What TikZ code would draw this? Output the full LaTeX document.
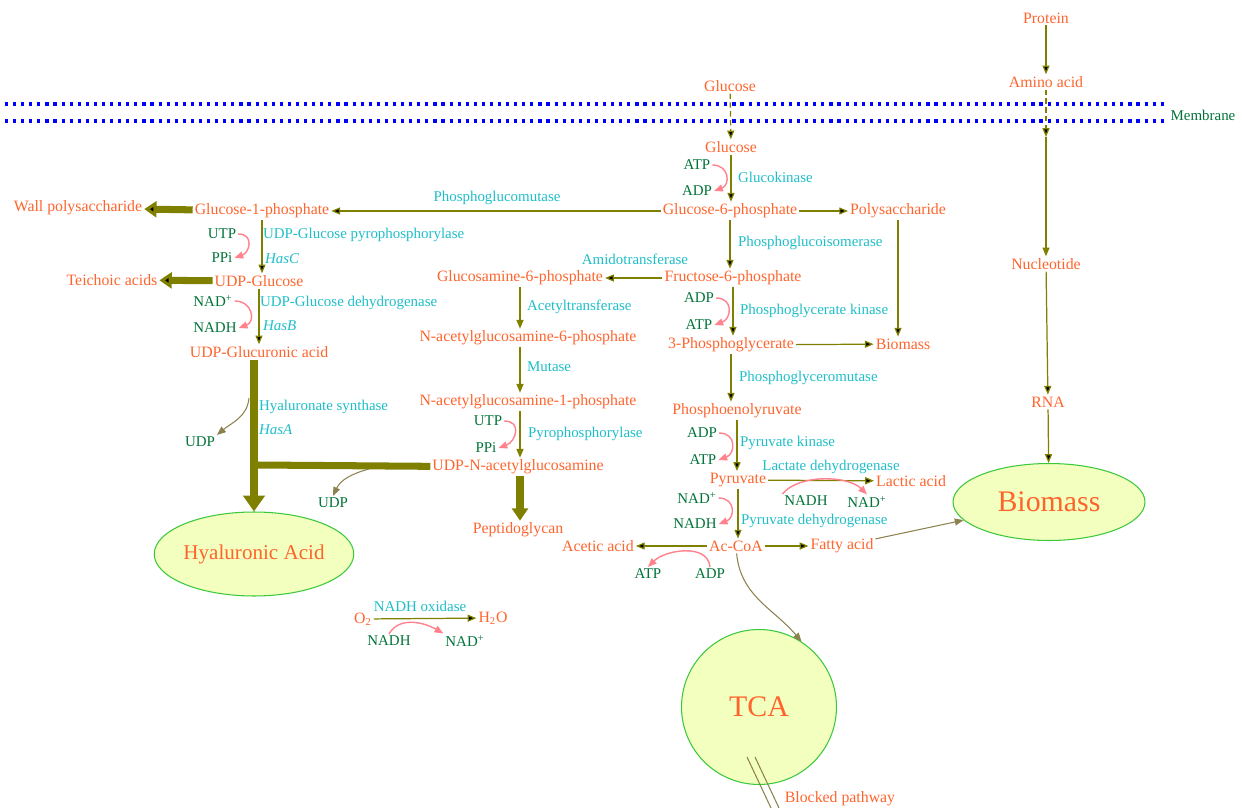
\documentclass[tikz,border=0pt]{standalone}
\usepackage{fontspec}
\setmainfont{Liberation Serif}
\usepackage{tikz}
\usetikzlibrary{arrows.meta,shapes.geometric}

\definecolor{metcol}{RGB}{255,100,45}
\definecolor{cofcol}{RGB}{0,115,55}
\definecolor{enzcol}{RGB}{30,190,200}
\definecolor{fluxcol}{RGB}{128,128,0}
\definecolor{sidecol}{RGB}{140,130,80}
\definecolor{arccol}{RGB}{255,130,140}
\definecolor{poolfill}{RGB}{242,255,190}
\definecolor{poolline}{RGB}{60,200,60}

\begin{document}
\begin{tikzpicture}[x=0.02cm,y=0.02cm
  ,>={Triangle[length=5pt,width=4pt]}
  ,font=\fontsize{9}{10}\selectfont
  ,inner sep=1pt]
  \tikzstyle{met}=[text=metcol]
  \tikzstyle{cof}=[text=cofcol,font=\fontsize{8.5}{9}\selectfont]
  \tikzstyle{enz}=[text=enzcol,font=\fontsize{8.5}{9}\selectfont]
  \tikzstyle{pool}=[ellipse,draw=poolline,fill=poolfill,semithick,text=metcol,inner sep=0pt]
  \tikzstyle{flux}=[->,draw=fluxcol,line width=0.7pt]
  \tikzstyle{bigflux}=[-{Triangle[length=7pt,width=9pt]},draw=fluxcol,line width=4pt]
  \tikzstyle{side}=[->,draw=sidecol,line width=0.6pt]
  \tikzstyle{cofarc}=[->,draw=arccol,line width=0.8pt]
  \tikzstyle{membrane}=[blue,line width=1.8pt,dash pattern=on 1.8pt off 2.8pt]

  \useasboundingbox (0,0) rectangle (1242,-808);

  % membrane
  \draw[membrane] (5,-104) -- (1165,-104);
  \draw[membrane] (5,-121) -- (1165,-121);
  \node[cof] (memb) at (1203,-115) {Membrane};

  % pools
  \node[pool,minimum width=3.84cm,minimum height=1.54cm
  ,font=\fontsize{17}{20}\selectfont] (bio) at (1049,-502) {Biomass};
  \node[pool,minimum width=3.98cm,minimum height=1.68cm
  ,font=\fontsize{12}{14}\selectfont] (ha) at (254,-554) {Hyaluronic Acid};
  \node[pool,circle,minimum size=3.1cm
  ,font=\fontsize{17}{20}\selectfont] (tca) at (759,-707) {TCA};

  % metabolites
  \node[met] (protein) at (1046,-18) {Protein};
  \node[met] (aa) at (1046,-82) {Amino acid};
  \coordinate (aain) at (1046,-137);
  \node[met] (nuc) at (1046,-264) {Nucleotide};
  \node[met] (rna) at (1048,-402) {RNA};
  \node[met] (glcout) at (730,-86) {Glucose};
  \node[met] (glcin) at (731,-147) {Glucose};
  \node[met] (g6p) at (730,-211) {Glucose-6-phosphate};
  \node[met] (poly) at (898,-211) {Polysaccharide};
  \node[met] (bios) at (903,-344) {Biomass};
  \node[met] (f6p) at (733,-278) {Fructose-6-phosphate};
  \node[met] (pga) at (731,-345) {3-Phosphoglycerate};
  \node[met] (pep) at (737,-411) {Phosphoenolyruvate};
  \node[met] (pyr) at (738,-480) {Pyruvate};
  \node[met] (lac) at (911,-481) {Lactic acid};
  \node[met] (accoa) at (736,-546) {Ac-CoA};
  \node[met] (acet) at (598,-546) {Acetic acid};
  \node[met] (fatty) at (842,-546) {Fatty acid};
  \node[met] (g1p) at (262,-211) {Glucose-1-phosphate};
  \node[met] (wall) at (78,-208) {Wall polysaccharide};
  \node[met] (udpg) at (259,-281) {UDP-Glucose};
  \node[met] (teich) at (112,-280) {Teichoic acids};
  \node[met] (udpga) at (259,-352) {UDP-Glucuronic acid};
  \node[met] (gn6p) at (520,-278) {Glucosamine-6-phosphate};
  \node[met] (nag6p) at (528,-338) {N-acetylglucosamine-6-phosphate};
  \node[met] (nag1p) at (528,-402) {N-acetylglucosamine-1-phosphate};
  \node[met] (udpnag) at (518,-467) {UDP-N-acetylglucosamine};
  \node[met] (pepg) at (518,-530) {Peptidoglycan};
  \node[met] (otwo) at (363,-619) {O\textsubscript{2}};
  \node[met] (water) at (493,-618) {H\textsubscript{2}O};
  \node[met] (blocked) at (840,-799) {Blocked pathway};

  % cofactors
  \node[cof] (atpa) at (697,-165) {ATP};
  \node[cof] (adpa) at (697,-191) {ADP};
  \node[cof] (adpb) at (699,-298) {ADP};
  \node[cof] (atpb) at (699,-325) {ATP};
  \node[cof] (adpc) at (702,-433) {ADP};
  \node[cof] (atpc) at (703,-460) {ATP};
  \node[cof] (nadd) at (697,-498) {NAD\textsuperscript{+}};
  \node[cof] (nadhd) at (695,-524) {NADH};
  \node[cof] (nadhe) at (806,-501) {NADH};
  \node[cof] (nade) at (867,-502) {NAD\textsuperscript{+}};
  \node[cof] (atpf) at (648,-574) {ATP};
  \node[cof] (adpf) at (710,-574) {ADP};
  \node[cof] (utpa) at (222,-234) {UTP};
  \node[cof] (ppia) at (222,-258) {PPi};
  \node[cof] (nadg) at (213,-301) {NAD\textsuperscript{+}};
  \node[cof] (nadhg) at (215,-328) {NADH};
  \node[cof] (udpa) at (200,-442) {UDP};
  \node[cof] (udpb) at (333,-503) {UDP};
  \node[cof] (utpb) at (488,-421) {UTP};
  \node[cof] (ppib) at (486,-448) {PPi};
  \node[cof] (nadhh) at (389,-641) {NADH};
  \node[cof] (nadh) at (465,-641) {NAD\textsuperscript{+}};

  % enzymes
  \node[enz] (pgm) at (497,-198) {Phosphoglucomutase};
  \node[enz,anchor=west] (gk) at (736,-177) {Glucokinase};
  \node[enz,anchor=west] (pgi) at (736,-243) {Phosphoglucoisomerase};
  \node[enz] (amt) at (635,-259) {Amidotransferase};
  \node[enz,anchor=west] (pgk) at (738,-311) {Phosphoglycerate kinase};
  \node[enz,anchor=west] (pgam) at (737,-378) {Phosphoglyceromutase};
  \node[enz,anchor=west] (pk) at (738,-443) {Pyruvate kinase};
  \node[enz] (ldh) at (831,-467) {Lactate dehydrogenase};
  \node[enz,anchor=west] (pdh) at (739,-521) {Pyruvate dehydrogenase};
  \node[enz,anchor=west] (ugp) at (261,-235) {UDP-Glucose pyrophosphorylase};
  \node[enz,anchor=west] (hasc) at (263,-259) {\textit{HasC}};
  \node[enz,anchor=west] (ugd) at (258,-303) {UDP-Glucose dehydrogenase};
  \node[enz,anchor=west] (hasb) at (261,-326) {\textit{HasB}};
  \node[enz,anchor=west] (has) at (257,-407) {Hyaluronate synthase};
  \node[enz,anchor=west] (hasa) at (257,-430) {\textit{HasA}};
  \node[enz,anchor=west] (act) at (525,-307) {Acetyltransferase};
  \node[enz,anchor=west] (mut) at (525,-367) {Mutase};
  \node[enz,anchor=west] (ppl) at (526,-434) {Pyrophosphorylase};
  \node[enz] (nox) at (420,-606) {NADH oxidase};

  % thin fluxes
  \path[flux,densely dashed]
  (glcout) edge (glcin)
  (aa) edge (aain);
  \path[flux]
  (protein) edge (aa)
  (nuc) edge (rna)
  (rna) edge (bio)
  (glcin) edge (glcin |- g6p.north)
  (g6p) edge (poly)
  (poly) edge (poly |- bios.north)
  (g6p) edge (g1p)
  (g6p) edge (g6p |- f6p.north)
  (f6p) edge (gn6p)
  (f6p) edge (f6p |- pga.north)
  (pga) edge (bios)
  (pga) edge (pga |- pep.north)
  (pep) edge (pep |- pyr.north)
  (pyr) edge (lac)
  (pyr) edge (pyr |- accoa.north)
  (accoa) edge (acet)
  (accoa) edge (fatty)
  (g1p) edge (g1p |- udpg.north)
  (udpg) edge (udpg |- udpga.north)
  (otwo) edge (water);
  \draw[flux] (aain) -- (nuc);
  % amino sugar column
  \draw[flux] (gn6p) -- (gn6p |- nag6p.north);
  \draw[flux] (gn6p |- nag6p.south) -- (gn6p |- nag1p.north);
  \draw[flux] (gn6p |- nag1p.south) -- (gn6p |- udpnag.north);
  \draw[side] (fatty) -- (bio);
  \draw[side] (accoa) to[out=-85,in=130] (tca.57);

  % thick fluxes
  \coordinate (hajoin) at (257,-465);
  \path[bigflux]
  (g1p) edge (wall)
  (udpg) edge (teich);
  \draw[bigflux,-{Triangle[length=9pt,width=12pt]}] (ha |- udpga.south) -- (ha);
  \draw[bigflux] (gn6p |- udpnag.south) -- (gn6p |- pepg.north);
  \draw[fluxcol,line width=4pt] (udpnag) -- (hajoin);

  % UDP release
  \coordinate (hsbr) at (249,-398);
  \coordinate (nagbr) at (369,-469);
  \draw[side] (hsbr) to[out=-95,in=40] (udpa.north east);
  \draw[side] (nagbr) to[out=195,in=65] (udpb.north);

  % cofactor arcs
  \draw[cofarc] (atpa.east) to[out=0,in=20,looseness=1.7] (adpa.east);
  \draw[cofarc] (adpb.east) to[out=0,in=20,looseness=1.7] (atpb.east);
  \draw[cofarc] (adpc.east) to[out=0,in=20,looseness=1.7] (atpc.east);
  \draw[cofarc] (nadd.east) to[out=0,in=20,looseness=1.7] (nadhd.east);
  \draw[cofarc] (utpa.east) to[out=0,in=20,looseness=1.7] (ppia.east);
  \draw[cofarc] (nadg.east) to[out=0,in=20,looseness=1.7] (nadhg.east);
  \draw[cofarc] (utpb.east) to[out=0,in=20,looseness=1.7] (ppib.east);
  \draw[cofarc] (nadhe.north west) to[out=50,in=135,looseness=0.8] (nade.north);
  \draw[cofarc] (nadhh.north) to[out=60,in=150] (nadh.north west);
  \draw[cofarc] (adpf.north) to[out=95,in=45] (atpf.north);

  % blocked
  \coordinate (blka) at (747,-757);
  \coordinate (blkb) at (755,-757);
  \draw[sidecol,line width=0.6pt] (blka) -- ++(24,-51);
  \draw[sidecol,line width=0.6pt] (blkb) -- ++(24,-51);
\end{tikzpicture}
\end{document}
